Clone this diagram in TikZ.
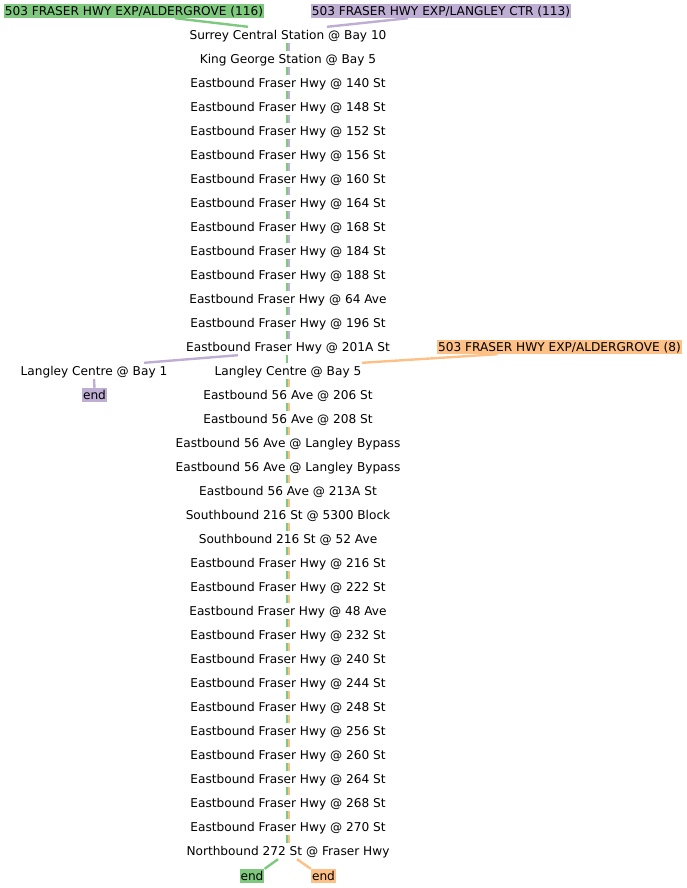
\documentclass[tikz,border=0pt]{standalone}
\usepackage{fontspec}
\setmainfont{DejaVu Sans}
\usetikzlibrary{calc}
\definecolor{rtgreen}{HTML}{7FC97F}
\definecolor{rtpurple}{HTML}{BEAED4}
\definecolor{rtorange}{HTML}{FDC086}

\begin{document}
\begin{tikzpicture}[x=1bp, y=-1bp, font=\fontsize{12.15bp}{14bp}\selectfont,
		stop/.style={inner sep=0pt, minimum height=16bp, text height=10bp, text depth=2bp},
		route/.style={fill=#1, inner sep=1bp, text height=10bp, text depth=2bp},
		leg/.style={draw=#1, line width=2.4bp}]
		\useasboundingbox (0,0) rectangle (687,888);
		% route labels
		\node[route=rtgreen] (r116) at (134,11) {503 FRASER HWY EXP/ALDERGROVE (116)};
		\node[route=rtpurple] (r113) at (441,11) {503 FRASER HWY EXP/LANGLEY CTR (113)};
		\node[route=rtorange] (r8) at (559.5,347) {503 FRASER HWY EXP/ALDERGROVE (8)};
		% stops on the main column
		\foreach \name [count=\i] in {Surrey Central Station @ Bay 10, King George Station @ Bay 5,
			Eastbound Fraser Hwy @ 140 St, Eastbound Fraser Hwy @ 148 St, Eastbound Fraser Hwy @ 152 St,
			Eastbound Fraser Hwy @ 156 St, Eastbound Fraser Hwy @ 160 St, Eastbound Fraser Hwy @ 164 St,
			Eastbound Fraser Hwy @ 168 St, Eastbound Fraser Hwy @ 184 St, Eastbound Fraser Hwy @ 188 St,
			Eastbound Fraser Hwy @ 64 Ave, Eastbound Fraser Hwy @ 196 St, Eastbound Fraser Hwy @ 201A St,
			Langley Centre @ Bay 5, Eastbound 56 Ave @ 206 St, Eastbound 56 Ave @ 208 St,
			Eastbound 56 Ave @ Langley Bypass, Eastbound 56 Ave @ Langley Bypass, Eastbound 56 Ave @ 213A St,
			Southbound 216 St @ 5300 Block, Southbound 216 St @ 52 Ave, Eastbound Fraser Hwy @ 216 St,
			Eastbound Fraser Hwy @ 222 St, Eastbound Fraser Hwy @ 48 Ave, Eastbound Fraser Hwy @ 232 St,
			Eastbound Fraser Hwy @ 240 St, Eastbound Fraser Hwy @ 244 St, Eastbound Fraser Hwy @ 248 St,
			Eastbound Fraser Hwy @ 256 St, Eastbound Fraser Hwy @ 260 St, Eastbound Fraser Hwy @ 264 St,
			Eastbound Fraser Hwy @ 268 St, Eastbound Fraser Hwy @ 270 St, Northbound 272 St @ Fraser Hwy}
			\node[stop] (s\i) at (288,{35+24*(\i-1)}) {\name};
		% branch stops and ends
		\node[stop] (lc1) at (94,371) {Langley Centre @ Bay 1};
		\node[route=rtpurple] (endp) at (94.5,395) {end};
		\node[route=rtgreen] (endg) at (252,876) {end};
		\node[route=rtorange] (endo) at (323.5,876) {end};
		% shared legs: 116 and 113
		\foreach \i [evaluate=\i as \j using int(\i+1)] in {1,...,13} {
			\draw[leg=rtgreen] ([xshift=-1.2bp]s\i.south) -- ([xshift=-1.2bp]s\j.north);
			\draw[leg=rtpurple] ([xshift=1.2bp]s\i.south) -- ([xshift=1.2bp]s\j.north);
		}
		\draw[leg=rtgreen] ([xshift=-1.2bp]s14.south) -- ([xshift=-1.2bp]s15.north);
		% shared legs: 116 and 8
		\foreach \i [evaluate=\i as \j using int(\i+1)] in {15,...,34} {
			\draw[leg=rtgreen] ([xshift=-1.2bp]s\i.south) -- ([xshift=-1.2bp]s\j.north);
			\draw[leg=rtorange] ([xshift=1.2bp]s\i.south) -- ([xshift=1.2bp]s\j.north);
		}
		% route starts and ends
		\draw[leg=rtgreen] ([xshift=41bp]r116.south) -- ([xshift=-40bp]s1.north);
		\draw[leg=rtpurple] ([xshift=-33bp]r113.south) -- ([xshift=39bp]s1.north);
		\draw[leg=rtpurple] ([xshift=-50bp]s14.south) -- ([xshift=50bp]lc1.north);
		\draw[leg=rtorange] ([xshift=-62bp]r8.south) -- ([xshift=74bp]s15.north);
		\draw[leg=rtpurple] (lc1.south) -- (endp.north);
		\draw[leg=rtgreen] ([xshift=-10bp]s35.south) -- (endg.north east);
		\draw[leg=rtorange] ([xshift=9bp]s35.south) -- (endo.north west);
	\end{tikzpicture}
\end{document}
